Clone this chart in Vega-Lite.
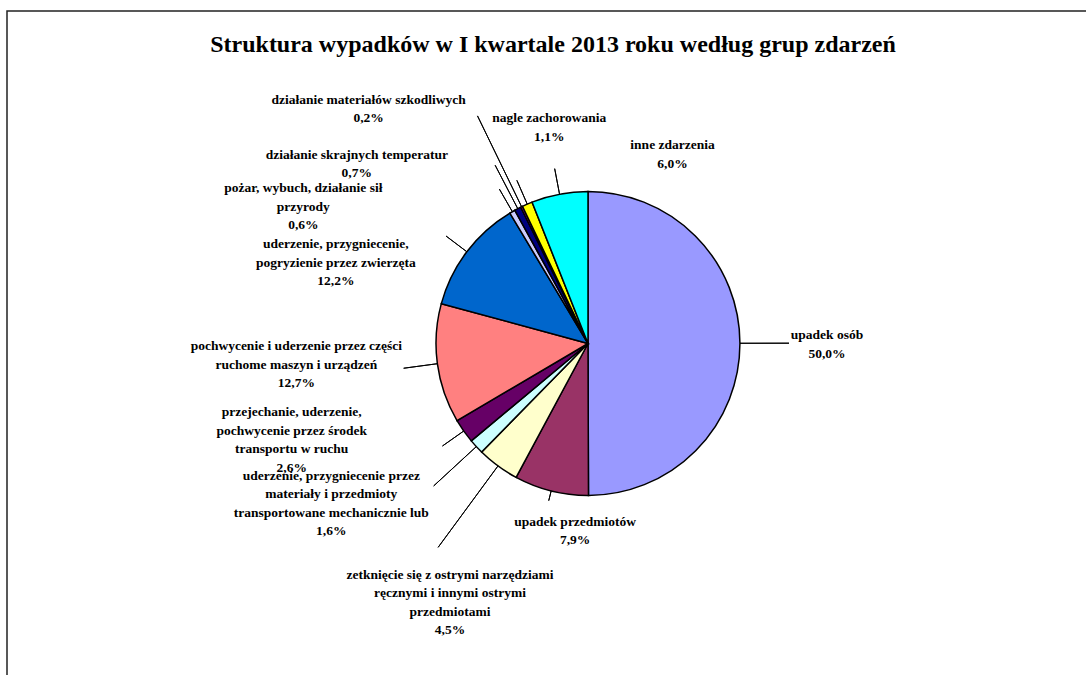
{
  "$schema": "https://vega.github.io/schema/vega-lite/v6.json",
  "width": 1086,
  "height": 675,
  "autosize": {"type": "fit", "contains": "padding"},
  "padding": {"left": 7, "top": 11, "right": -83, "bottom": -1},
  "background": "white",
  "view": {"stroke": "#222", "strokeWidth": 1.5},
  "title": {
    "text": "Struktura wypadków w I kwartale 2013 roku według grup zdarzeń",
    "font": "Liberation Serif",
    "fontSize": 24,
    "fontWeight": "bold",
    "color": "#000",
    "anchor": "middle",
    "frame": "group",
    "orient": "top",
    "offset": -65,
    "baseline": "alphabetic",
    "dx": -35
  },
  "config": {
    "text": {
      "font": "Liberation Serif",
      "fontSize": 13.5,
      "fontWeight": "bold",
      "lineHeight": 18.5,
      "lineBreak": "\n",
      "align": "center",
      "baseline": "middle",
      "color": "#000",
      "radius": 152
    }
  },
  "data": {
    "values": [
      {"name": "upadek osób", "label": "upadek osób", "value": 50.0},
      {"name": "upadek przedmiotów", "label": "upadek przedmiotów", "value": 7.9},
      {"name": "zetknięcie", "label": "zetknięcie się z ostrymi narzędziami\nręcznymi i innymi ostrymi\nprzedmiotami", "value": 4.5},
      {"name": "materiały", "label": "uderzenie, przygniecenie przez\nmateriały i przedmioty\ntransportowane mechanicznie lub", "value": 1.6},
      {"name": "przejechanie", "label": "przejechanie, uderzenie,\npochwycenie przez środek\ntransportu w ruchu", "value": 2.6},
      {"name": "pochwycenie", "label": "pochwycenie i uderzenie przez części\nruchome maszyn i urządzeń", "value": 12.7},
      {"name": "zwierzęta", "label": "uderzenie, przygniecenie,\npogryzienie przez zwierzęta", "value": 12.2},
      {"name": "pożar", "label": "pożar, wybuch, działanie sił\nprzyrody", "value": 0.6},
      {"name": "temperatury", "label": "działanie skrajnych temperatur", "value": 0.7},
      {"name": "szkodliwe", "label": "działanie materiałów szkodliwych", "value": 0.2},
      {"name": "zachorowania", "label": "nagle zachorowania", "value": 1.1},
      {"name": "inne", "label": "inne zdarzenia", "value": 6.0}
    ]
  },
  "transform": [
    {"stack": "value", "groupby": [], "as": ["start", "end"]},
    {"calculate": "(datum.start + datum.end) / 2", "as": "mid"},
    {"calculate": "datum.label + '\\n' + replace(format(datum.value, '.1f'), '.', ',') + '%'", "as": "display"}
  ],
  "layer": [
    {
      "mark": {"type": "arc", "outerRadius": 152, "stroke": "#000", "strokeWidth": 1.5},
      "encoding": {
        "theta": {"field": "start", "type": "quantitative", "stack": null, "scale": {"domain": [0, 100.1]}},
        "theta2": {"field": "end"},
        "color": {
          "field": "name",
          "type": "nominal",
          "legend": null,
          "scale": {
            "domain": ["upadek osób", "upadek przedmiotów", "zetknięcie", "materiały", "przejechanie", "pochwycenie", "zwierzęta", "pożar", "temperatury", "szkodliwe", "zachorowania", "inne"],
            "range": ["#9999FF", "#993366", "#FFFFCC", "#CCFFFF", "#660066", "#FF8080", "#0066CC", "#CCCCFF", "#000080", "#FF00FF", "#FFFF00", "#00FFFF"]
          }
        }
      }
    },
    {
      "transform": [{"filter": {"field": "name", "oneOf": ["upadek przedmiotów"]}}],
      "mark": {"type": "arc", "innerRadius": 152, "outerRadius": 162, "filled": false, "stroke": "#000", "strokeWidth": 1},
      "encoding": {"theta": {"field": "mid", "type": "quantitative", "stack": null}, "theta2": {"field": "mid"}}
    },
    {
      "transform": [{"filter": {"field": "name", "oneOf": ["przejechanie", "zwierzęta", "pożar", "zachorowania", "inne"]}}],
      "mark": {"type": "arc", "innerRadius": 152, "outerRadius": 178, "filled": false, "stroke": "#000", "strokeWidth": 1},
      "encoding": {"theta": {"field": "mid", "type": "quantitative", "stack": null}, "theta2": {"field": "mid"}}
    },
    {
      "transform": [{"filter": {"field": "name", "oneOf": ["pochwycenie"]}}],
      "mark": {"type": "arc", "innerRadius": 152, "outerRadius": 186, "filled": false, "stroke": "#000", "strokeWidth": 1},
      "encoding": {"theta": {"field": "mid", "type": "quantitative", "stack": null}, "theta2": {"field": "mid"}}
    },
    {
      "transform": [{"filter": {"field": "name", "oneOf": ["upadek osób", "temperatury"]}}],
      "mark": {"type": "arc", "innerRadius": 152, "outerRadius": 201, "filled": false, "stroke": "#000", "strokeWidth": 1},
      "encoding": {"theta": {"field": "mid", "type": "quantitative", "stack": null}, "theta2": {"field": "mid"}}
    },
    {
      "transform": [{"filter": {"field": "name", "oneOf": ["materiały"]}}],
      "mark": {"type": "arc", "innerRadius": 152, "outerRadius": 210, "filled": false, "stroke": "#000", "strokeWidth": 1},
      "encoding": {"theta": {"field": "mid", "type": "quantitative", "stack": null}, "theta2": {"field": "mid"}}
    },
    {
      "transform": [{"filter": {"field": "name", "oneOf": ["zetknięcie", "szkodliwe"]}}],
      "mark": {"type": "arc", "innerRadius": 152, "outerRadius": 253, "filled": false, "stroke": "#000", "strokeWidth": 1},
      "encoding": {"theta": {"field": "mid", "type": "quantitative", "stack": null}, "theta2": {"field": "mid"}}
    },
    {
      "transform": [{"filter": "datum.name === 'upadek osób'"}],
      "mark": {"type": "text", "dx": 87, "dy": -8},
      "encoding": {"theta": {"field": "mid", "type": "quantitative", "stack": null}, "text": {"field": "display"}}
    },
    {
      "transform": [{"filter": "datum.name === 'upadek przedmiotów'"}],
      "mark": {"type": "text", "dx": 24, "dy": 31},
      "encoding": {"theta": {"field": "mid", "type": "quantitative", "stack": null}, "text": {"field": "display"}}
    },
    {
      "transform": [{"filter": "datum.name === 'zetknięcie'"}],
      "mark": {"type": "text", "dx": -48, "dy": 109},
      "encoding": {"theta": {"field": "mid", "type": "quantitative", "stack": null}, "text": {"field": "display"}}
    },
    {
      "transform": [{"filter": "datum.name === 'materiały'"}],
      "mark": {"type": "text", "dx": -145, "dy": 29},
      "encoding": {"theta": {"field": "mid", "type": "quantitative", "stack": null}, "text": {"field": "display"}}
    },
    {
      "transform": [{"filter": "datum.name === 'przejechanie'"}],
      "mark": {"type": "text", "dx": -172, "dy": -19},
      "encoding": {"theta": {"field": "mid", "type": "quantitative", "stack": null}, "text": {"field": "display"}}
    },
    {
      "transform": [{"filter": "datum.name === 'pochwycenie'"}],
      "mark": {"type": "text", "dx": -141, "dy": -17.5},
      "encoding": {"theta": {"field": "mid", "type": "quantitative", "stack": null}, "text": {"field": "display"}}
    },
    {
      "transform": [{"filter": "datum.name === 'zwierzęta'"}],
      "mark": {"type": "text", "dx": -131, "dy": -7.5},
      "encoding": {"theta": {"field": "mid", "type": "quantitative", "stack": null}, "text": {"field": "display"}}
    },
    {
      "transform": [{"filter": "datum.name === 'pożar'"}],
      "mark": {"type": "text", "dx": -209, "dy": -23.5},
      "encoding": {"theta": {"field": "mid", "type": "quantitative", "stack": null}, "text": {"field": "display"}}
    },
    {
      "transform": [{"filter": "datum.name === 'temperatury'"}],
      "mark": {"type": "text", "dx": -161, "dy": -54},
      "encoding": {"theta": {"field": "mid", "type": "quantitative", "stack": null}, "text": {"field": "display"}}
    },
    {
      "transform": [{"filter": "datum.name === 'szkodliwe'"}],
      "mark": {"type": "text", "dx": -153, "dy": -107},
      "encoding": {"theta": {"field": "mid", "type": "quantitative", "stack": null}, "text": {"field": "display"}}
    },
    {
      "transform": [{"filter": "datum.name === 'zachorowania'"}],
      "mark": {"type": "text", "dx": 22, "dy": -86},
      "encoding": {"theta": {"field": "mid", "type": "quantitative", "stack": null}, "text": {"field": "display"}}
    },
    {
      "transform": [{"filter": "datum.name === 'inne'"}],
      "mark": {"type": "text", "dx": 113, "dy": -49},
      "encoding": {"theta": {"field": "mid", "type": "quantitative", "stack": null}, "text": {"field": "display"}}
    }
  ]
}
